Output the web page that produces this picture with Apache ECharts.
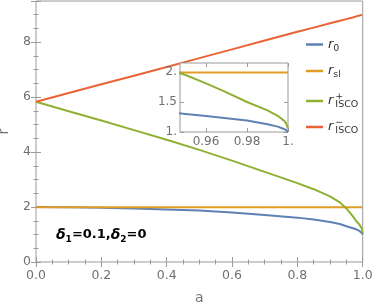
<!DOCTYPE html>
<html>
<head>
<meta charset="utf-8">
<script src="https://cdn.jsdelivr.net/npm/echarts@6/dist/echarts.min.js"></script>
<style>
html,body{margin:0;padding:0;background:#fff;}
#chart{width:374px;height:307px;}
</style>
</head>
<body>
<div id="chart"></div>
<script>
// spin parameter a
var aValues = [0, 0.1, 0.2, 0.3, 0.4, 0.5, 0.6, 0.7, 0.8, 0.85, 0.9, 0.93, 0.95, 0.96, 0.97, 0.98, 0.99, 0.995, 0.998, 0.999, 1];
// r0
var r0 = [2.0, 1.99, 1.975, 1.95, 1.915, 1.87, 1.8, 1.71, 1.615, 1.545, 1.455, 1.385, 1.30, 1.265, 1.23, 1.19, 1.13, 1.09, 1.05, 1.035, 1.0];
// r_sl
var rSl = [1.99, 1.99, 1.99, 1.99, 1.99, 1.99, 1.99, 1.99, 1.99, 1.99, 1.99, 1.99, 1.99, 1.99, 1.99, 1.99, 1.99, 1.99, 1.99, 1.99, 1.99];
// r+_ISCO
var rIscoPlus = [5.83, 5.49, 5.15, 4.8, 4.45, 4.08, 3.69, 3.28, 2.87, 2.65, 2.39, 2.17, 1.95, 1.81, 1.66, 1.5, 1.36, 1.27, 1.19, 1.15, 1.06];
// r-_ISCO
var rIscoMinus = [5.83, 6.15, 6.47, 6.78, 7.1, 7.42, 7.74, 8.06, 8.38, 8.53, 8.69, 8.78, 8.84, 8.87, 8.9, 8.94, 8.97, 8.985, 8.994, 8.997, 9.0];

var mainXTicks = [0, 0.2, 0.4, 0.6, 0.8, 1.0];
var mainYTicks = [0, 2, 4, 6, 8];
var insetXTicks = [0.96, 0.98, 1.0];
var insetYTicks = [1, 1.5, 2];

var names = ['r0', 'rsl', 'rplus', 'rminus'];
var colors = ['#5E81B5', '#E19C24', '#8FB032', '#EB6235'];
var seriesData = [r0, rSl, rIscoPlus, rIscoMinus];

function pairs(arr) {
  return aValues.map(function (a, i) { return [a, arr[i]]; });
}

var frame = '#9a9a9a';
var labelColor = '#707070';

function frameAxis(extra) {
  var base = {
    type: 'value',
    axisLine: { show: false },
    splitLine: { show: false },
    axisTick: { show: true, inside: true, length: 5, lineStyle: { color: frame } },
    minorTick: { show: true, splitNumber: 4, length: 2.5, lineStyle: { color: frame } },
    axisLabel: { color: labelColor, fontSize: 12.5, fontFamily: 'DejaVu Sans' }
  };
  for (var k in extra) base[k] = extra[k];
  return base;
}

var series = [];
names.forEach(function (n, i) {
  series.push({
    name: n, type: 'line', xAxisIndex: 0, yAxisIndex: 0,
    data: pairs(seriesData[i]), showSymbol: false, symbol: 'none', smooth: false,
    lineStyle: { color: colors[i], width: 2, join: 'round' }, itemStyle: { color: colors[i] },
    z: 2, silent: true, animation: false
  });
});
names.forEach(function (n, i) {
  series.push({
    name: n + '_inset', type: 'line', xAxisIndex: 2, yAxisIndex: 2,
    data: pairs(seriesData[i]), showSymbol: false, symbol: 'none', smooth: false,
    lineStyle: { color: colors[i], width: 2, join: 'round' }, clip: true,
    z: 7, silent: true, animation: false
  });
});

var legendText = {
  r0: '{i|r}{s|0}',
  rsl: '{i|r}{s|sl}',
  rplus: '{i|r}{p|+}{s|ISCO}',
  rminus: '{i|r}{p|\u2212}{s|ISCO}'
};
var rich = {
  i: { fontStyle: 'italic', fontSize: 13, color: '#333', lineHeight: 18, fontFamily: 'DejaVu Sans' },
  s: { fontSize: 9.5, color: '#333', lineHeight: 10, verticalAlign: 'bottom', fontFamily: 'DejaVu Sans' },
  p: { fontSize: 9.5, color: '#333', lineHeight: 10, verticalAlign: 'top', width: 0, padding: [0, 0, 0, 2], fontFamily: 'DejaVu Sans' }
};
var legendTops = [33, 59.5, 87, 113];
var legends = names.map(function (n, i) {
  return {
    data: [n], left: 301, top: legendTops[i], orient: 'vertical',
    icon: 'rect', itemWidth: 17, itemHeight: 2.5, selectedMode: false,
    formatter: function (name) { return legendText[name]; },
    textStyle: { rich: rich }
  };
});

var chart = echarts.init(document.getElementById('chart'), null, { renderer: 'canvas' });
chart.setOption({
  animation: false,
  backgroundColor: '#fff',
  grid: [
    { left: 36, right: 11.3, top: 1, bottom: 45, outerBoundsMode: 'none', containLabel: false,
      show: true, borderColor: frame, borderWidth: 1, backgroundColor: 'transparent', z: 0 },
    { left: 180, top: 63, width: 108, height: 69, outerBoundsMode: 'none', containLabel: false,
      show: true, borderColor: frame, borderWidth: 1, backgroundColor: '#fff', z: 5 }
  ],
  xAxis: [
    frameAxis({ gridIndex: 0, min: 0, max: 1, interval: 0.2, position: 'bottom',
      name: 'a', nameLocation: 'middle', nameGap: 29,
      nameTextStyle: { color: labelColor, fontSize: 14, fontFamily: 'DejaVu Sans' },
      axisLabel: { color: labelColor, fontSize: 12.5, margin: 7, fontFamily: 'DejaVu Sans',
        formatter: function (v) { return v.toFixed(1); } } }),
    frameAxis({ gridIndex: 0, min: 0, max: 1, interval: 0.2, position: 'top', axisLabel: { show: false } }),
    frameAxis({ gridIndex: 1, min: 0.9473, max: 1, position: 'bottom', z: 6,
      axisTick: { show: true, inside: true, length: 4, customValues: insetXTicks, lineStyle: { color: frame } },
      minorTick: { show: false },
      axisLabel: { customValues: insetXTicks, color: labelColor, fontSize: 12, margin: 4, fontFamily: 'DejaVu Sans',
        formatter: function (v) { return v >= 0.9999 ? '1.' : v.toFixed(2); } } }),
    frameAxis({ gridIndex: 1, min: 0.9473, max: 1, position: 'top', z: 6,
      axisTick: { show: true, inside: true, length: 4, customValues: insetXTicks, lineStyle: { color: frame } },
      minorTick: { show: false }, axisLabel: { show: false } })
  ],
  yAxis: [
    frameAxis({ gridIndex: 0, min: 0, max: 9.5, interval: 2, position: 'left',
      name: 'r', nameLocation: 'middle', nameGap: 25, nameRotate: 90,
      nameTextStyle: { color: labelColor, fontSize: 14, fontFamily: 'DejaVu Sans' },
      axisLabel: { color: labelColor, fontSize: 12.5, margin: 5, showMaxLabel: false, fontFamily: 'DejaVu Sans' } }),
    frameAxis({ gridIndex: 0, min: 0, max: 9.5, interval: 2, position: 'right', axisLabel: { show: false } }),
    frameAxis({ gridIndex: 1, min: 1, max: 2.15, position: 'left', z: 6,
      axisTick: { show: true, inside: true, length: 4, customValues: insetYTicks, lineStyle: { color: frame } },
      minorTick: { show: false },
      axisLabel: { customValues: insetYTicks, color: labelColor, fontSize: 12, margin: 3, fontFamily: 'DejaVu Sans',
        formatter: function (v) { return (v === 1 || v === 2) ? v + '.' : String(v); } } }),
    frameAxis({ gridIndex: 1, min: 1, max: 2.15, position: 'right', z: 6,
      axisTick: { show: true, inside: true, length: 4, customValues: insetYTicks, lineStyle: { color: frame } },
      minorTick: { show: false }, axisLabel: { show: false } })
  ],
  legend: legends,
  graphic: [{
    type: 'text', left: 56, top: 228, z: 10,
    style: {
      text: '{d|\u03b4}{s|1}{t|=0.1,}{d|\u03b4}{s|2}{t|=0}',
      rich: {
        d: { fontStyle: 'italic', fontWeight: 'bold', fontSize: 14, lineHeight: 18, fill: '#000', fontFamily: 'DejaVu Sans' },
        s: { fontWeight: 'bold', fontSize: 9, lineHeight: 10, verticalAlign: 'bottom', fill: '#000', fontFamily: 'DejaVu Sans' },
        t: { fontWeight: 'bold', fontSize: 13, lineHeight: 18, fill: '#000', fontFamily: 'DejaVu Sans' }
      }
    }
  }],
  series: series
});
</script>
</body>
</html>
